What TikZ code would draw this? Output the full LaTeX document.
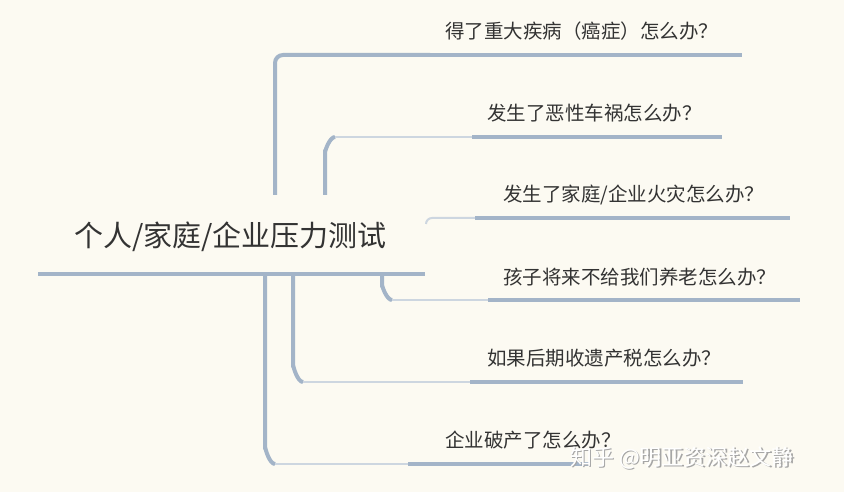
\documentclass[tikz,border=0pt]{standalone}
\usepackage{fontspec}
\setmainfont{Noto Sans CJK SC}
\definecolor{bg}{HTML}{FCFAF2}
\definecolor{br}{HTML}{A3B4C8}
\definecolor{lt}{HTML}{CDD6E0}
\definecolor{tx}{HTML}{333333}
\begin{document}
\begin{tikzpicture}[x=1pt,y=-1pt,
  lbl/.style={anchor=west,inner sep=0pt,text=tx,font=\fontsize{19.5}{22}\selectfont},
  trunk/.style={draw=br,line width=4pt,rounded corners=8pt},
  thin/.style={draw=lt,line width=2pt},
  under/.style={draw=br,line width=4pt},
  wmk/.style={anchor=west,inner sep=0pt,font=\fontsize{22}{24}\selectfont}]
\fill[bg] (0,0) rectangle (844,492);
\useasboundingbox (0,0) rectangle (844,492);
\node[anchor=west,inner sep=0pt,text=tx,font=\fontsize{29}{32}\selectfont] (root) at (74,237) {个人/家庭/企业压力测试};
\draw[under] (38,274) -- (425,274);
% children labels
\node[lbl] (c1) at (445,31) {得了重大疾病（癌症）怎么办？};
\node[lbl] (c2) at (487,113) {发生了恶性车祸怎么办？};
\node[lbl] (c3) at (503,195) {发生了家庭/企业火灾怎么办？};
\node[lbl] (c4) at (503,277) {孩子将来不给我们养老怎么办？};
\node[lbl] (c5) at (487,358) {如果后期收遗产税怎么办？};
\node[lbl] (c6) at (445,440) {企业破产了怎么办？};
% underline coordinates
\coordinate (u1a) at (430,55); \coordinate (u1b) at (742,55);
\coordinate (u2a) at (472,137); \coordinate (u2b) at (722,137);
\coordinate (u3a) at (475,218); \coordinate (u3b) at (790,218);
\coordinate (u4a) at (488,300); \coordinate (u4b) at (800,300);
\coordinate (u5a) at (470,382); \coordinate (u5b) at (743,382);
\coordinate (u6a) at (408,464); \coordinate (u6b) at (590,464);
% trunks
\draw[trunk] (275,195) |- (u1a);
\draw[trunk] (325,195) -- (325,145) to[out=-90,in=180] (335,137);
\draw[thin] (335,137) -- (u2a);
\draw[thin,rounded corners=6pt] (426,224) |- (u3a);
\draw[trunk] (382,276) -- (382,292) to[out=90,in=180] (392,300);
\draw[thin] (392,300) -- (u4a);
\draw[trunk] (293,276) -- (293,372) to[out=90,in=180] (303,382);
\draw[thin] (303,382) -- (u5a);
\draw[trunk] (265,276) -- (265,454) to[out=90,in=180] (275,464);
\draw[thin] (275,464) -- (u6a);
% underlines
\foreach \i in {1,...,6} \draw[under] (u\i a) -- (u\i b);
% watermark
\node[wmk,text=black!35] at (571.2,459.2) {知乎 @明亚资深赵文静};
\node[wmk,text=white] (wm) at (570,458) {知乎 @明亚资深赵文静};
\end{tikzpicture}
\end{document}
